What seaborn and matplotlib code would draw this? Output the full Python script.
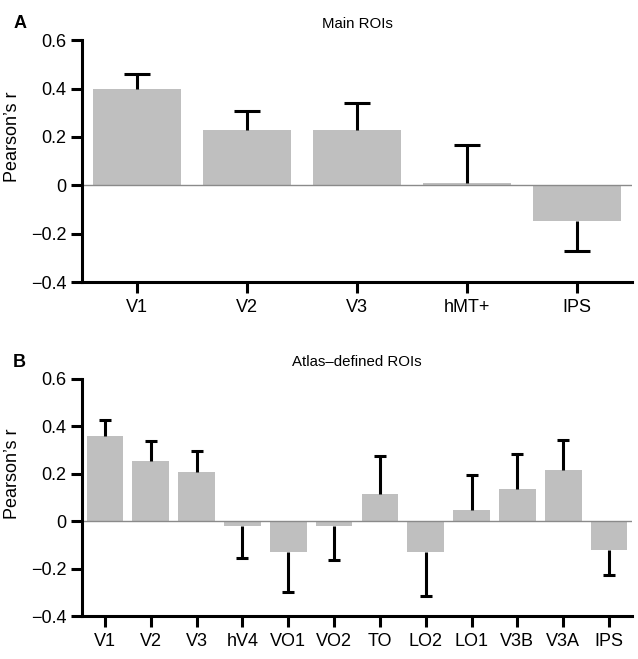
import matplotlib
matplotlib.use("Agg")
import matplotlib.pyplot as plt
import seaborn as sns
import numpy as np
import pandas as pd

# Panel A: main ROIs
main_rois = ["V1", "V2", "V3", "hMT+", "IPS"]
main_r = [0.40, 0.229, 0.228, 0.01, -0.147]
main_err = [0.06, 0.078, 0.112, 0.155, 0.125]

# Panel B: atlas-defined ROIs
atlas_rois = ["V1", "V2", "V3", "hV4", "VO1", "VO2", "TO", "LO2", "LO1", "V3B", "V3A", "IPS"]
atlas_r = [0.358, 0.252, 0.206, -0.022, -0.129, -0.022, 0.115, -0.13, 0.048, 0.137, 0.217, -0.123]
atlas_err = [0.067, 0.085, 0.09, 0.132, 0.17, 0.141, 0.162, 0.184, 0.146, 0.145, 0.126, 0.102]

yticks = [0.6, 0.4, 0.2, 0, -0.2, -0.4]
ytick_labels = ["0.6", "0.4", "0.2", "0", "\u22120.2", "\u22120.4"]

BAR_COLOR = "#bfbfbf"

sns.set_style("ticks")
plt.rcParams["font.family"] = ["Liberation Sans", "DejaVu Sans"]
plt.rcParams.update({
    "text.color": "black",
    "axes.labelcolor": "black",
    "axes.edgecolor": "black",
    "xtick.color": "black",
    "ytick.color": "black",
})


def draw_panel(ax, rois, r, err, title, letter, capsize):
    df = pd.DataFrame({"roi": rois, "r": r})
    sns.barplot(data=df, x="roi", y="r", color=BAR_COLOR, saturation=1,
                width=0.8, ax=ax, errorbar=None)
    for p in ax.patches:
        p.set_edgecolor("none")

    x = np.arange(len(rois))
    r = np.array(r)
    err = np.array(err)
    lower = np.where(r < 0, err, 0)
    upper = np.where(r >= 0, err, 0)
    ax.errorbar(x, r, yerr=[lower, upper], fmt="none", ecolor="black",
                elinewidth=2.2, capsize=0, zorder=3)
    tips = np.where(r >= 0, r + err, r - err)
    ax.plot(x, tips, ls="none", marker="_", color="black",
            markersize=capsize, markeredgewidth=2.2, zorder=3)

    ax.axhline(0, color="#8a8a8a", lw=1.0, zorder=2)

    ax.set_ylim(-0.4, 0.6)
    ax.set_xlim(-0.5, len(rois) - 0.5)
    ax.set_yticks(yticks)
    ax.set_yticklabels(ytick_labels)
    ax.set_xlabel("")
    ax.set_ylabel("Pearson\u2019s r", fontsize=13)
    ax.yaxis.set_label_coords(-0.11, 0.6)
    ax.set_title(title, fontsize=10.8, pad=9)
    ax.tick_params(axis="both", length=8, width=2.2, labelsize=13, pad=4)
    ax.tick_params(axis="y", pad=3)

    sns.despine(ax=ax)
    ax.spines["left"].set_linewidth(2.2)
    ax.spines["bottom"].set_linewidth(2.2)

    ax.text(-0.125, 1.07, letter, transform=ax.transAxes, fontsize=13,
            fontweight="bold", ha="left", va="center")


def main():
    fig = plt.figure(figsize=(6.38, 6.59), dpi=100)
    ax_a = fig.add_axes([0.1285, 0.572, 0.862, 0.367])
    ax_b = fig.add_axes([0.1285, 0.065, 0.862, 0.360])

    draw_panel(ax_a, main_rois, main_r, main_err, "Main ROIs", "A", 19)
    draw_panel(ax_b, atlas_rois, atlas_r, atlas_err, "Atlas\u2013defined ROIs", "B", 8)

    fig.savefig("out.png", dpi=100)


if __name__ == "__main__":
    main()
